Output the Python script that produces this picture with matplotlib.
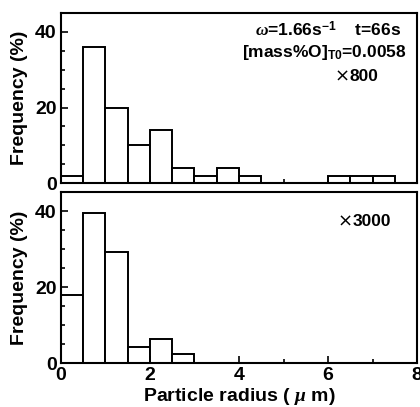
import matplotlib.pyplot as plt
import numpy as np
from matplotlib.ticker import MultipleLocator

plt.rcParams['font.family'] = ['Liberation Sans', 'DejaVu Sans']
plt.rcParams['font.weight'] = 'bold'
plt.rcParams['mathtext.fontset'] = 'custom'
plt.rcParams['mathtext.rm'] = 'Liberation Sans:bold'
plt.rcParams['mathtext.it'] = 'Liberation Serif:italic'

# bin edges (radius, um) and frequencies (%)
bin_edges = np.arange(0, 8.01, 0.5)
freq_800 = [2, 36, 20, 10, 14, 4, 2, 4, 2, 0, 0, 0, 2, 2, 2, 0]
freq_3000 = [17.8, 39.5, 29.2, 4.3, 6.2, 2.3, 0, 0, 0, 0, 0, 0, 0, 0, 0, 0]

fig = plt.figure(figsize=(4.2, 4.07), dpi=100)
ax1 = fig.add_axes([0.145, 0.550, 0.848, 0.418])
ax2 = fig.add_axes([0.145, 0.108, 0.848, 0.420])

for ax, freq in ((ax1, freq_800), (ax2, freq_3000)):
    ax.bar(bin_edges[:-1], freq, width=0.5, align='edge',
           facecolor='white', edgecolor='black', linewidth=1.4)
    ax.set_xlim(0, 8)
    ax.set_ylim(0, 45)
    ax.xaxis.set_major_locator(MultipleLocator(2))
    ax.xaxis.set_minor_locator(MultipleLocator(1))
    ax.yaxis.set_major_locator(MultipleLocator(20))
    ax.yaxis.set_minor_locator(MultipleLocator(5))
    ax.tick_params(which='both', direction='in', labelsize=14, width=1.2)
    ax.tick_params(which='major', length=5, pad=3)
    ax.tick_params(which='minor', length=3)
    for sp in ax.spines.values():
        sp.set_linewidth(1.5)
    ax.set_ylabel('Frequency (%)', fontsize=14, fontweight='bold', labelpad=5)

ax1.tick_params(labelbottom=False)
ax2.set_xlabel('Particle radius ( $\\mu$ m)', fontsize=14, fontweight='bold', labelpad=1)

ax1.text(0.955, 0.90, '$\\omega$=1.66s$^{-1}$    t=66s', transform=ax1.transAxes,
         ha='right', va='center', fontsize=12.5, fontweight='bold')
ax1.text(0.97, 0.77, '[mass%O]$_{\\mathrm{T0}}$=0.0058', transform=ax1.transAxes,
         ha='right', va='center', fontsize=12.5, fontweight='bold')
ax1.text(0.81, 0.625, '×', transform=ax1.transAxes, family='DejaVu Sans',
         ha='right', va='center', fontsize=13, fontweight='normal')
ax1.text(0.81, 0.625, '800', transform=ax1.transAxes,
         ha='left', va='center', fontsize=12.5, fontweight='bold')
ax2.text(0.82, 0.83, '×', transform=ax2.transAxes, family='DejaVu Sans',
         ha='right', va='center', fontsize=13, fontweight='normal')
ax2.text(0.82, 0.83, '3000', transform=ax2.transAxes,
         ha='left', va='center', fontsize=12.5, fontweight='bold')

fig.savefig('out.png', dpi=100)
